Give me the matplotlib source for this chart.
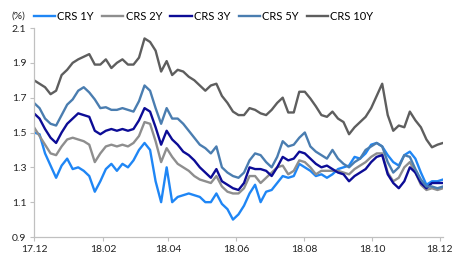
import numpy as np
import pandas as pd
import matplotlib
matplotlib.use("Agg")
import matplotlib.pyplot as plt
import matplotlib.dates as mdates

plt.rcParams['font.family'] = ['Lato', 'DejaVu Sans']

# sampled every ~5 days, Dec 2017 - early Dec 2018
dates = pd.date_range('2017-12-01', '2018-12-04', periods=75)

crs_1y = [1.50, 1.49, 1.38, 1.31, 1.24, 1.31, 1.35, 1.29, 1.30, 1.28,
          1.25, 1.16, 1.22, 1.29, 1.32, 1.28, 1.32, 1.30, 1.34, 1.40,
          1.44, 1.40, 1.22, 1.10, 1.30, 1.10, 1.13, 1.14, 1.15, 1.14,
          1.13, 1.10, 1.10, 1.15, 1.09, 1.06, 1.00, 1.03, 1.08, 1.15,
          1.20, 1.10, 1.16, 1.17, 1.21, 1.25, 1.24, 1.25, 1.32, 1.30,
          1.28, 1.25, 1.26, 1.24, 1.26, 1.29, 1.30, 1.31, 1.36, 1.35,
          1.38, 1.43, 1.44, 1.42, 1.37, 1.33, 1.31, 1.37, 1.39, 1.35,
          1.27, 1.20, 1.22, 1.22, 1.23]
crs_2y = [1.53, 1.48, 1.43, 1.38, 1.37, 1.42, 1.46, 1.47, 1.46, 1.45,
          1.43, 1.33, 1.38, 1.42, 1.43, 1.42, 1.43, 1.42, 1.44, 1.48,
          1.56, 1.55, 1.45, 1.33, 1.41, 1.36, 1.32, 1.30, 1.28, 1.25,
          1.23, 1.22, 1.21, 1.25, 1.19, 1.16, 1.15, 1.15, 1.18, 1.25,
          1.25, 1.21, 1.24, 1.27, 1.30, 1.31, 1.26, 1.28, 1.34, 1.33,
          1.30, 1.26, 1.28, 1.28, 1.28, 1.28, 1.27, 1.26, 1.29, 1.31,
          1.33, 1.36, 1.38, 1.38, 1.27, 1.22, 1.24, 1.30, 1.33, 1.27,
          1.20, 1.17, 1.18, 1.17, 1.18]
crs_3y = [1.61, 1.58, 1.52, 1.47, 1.44, 1.50, 1.55, 1.58, 1.61, 1.60,
          1.59, 1.51, 1.49, 1.51, 1.52, 1.51, 1.52, 1.51, 1.52, 1.57,
          1.64, 1.62, 1.53, 1.43, 1.51, 1.46, 1.43, 1.39, 1.37, 1.34,
          1.30, 1.27, 1.24, 1.29, 1.22, 1.20, 1.18, 1.17, 1.21, 1.30,
          1.29, 1.29, 1.28, 1.25, 1.30, 1.36, 1.34, 1.35, 1.39, 1.38,
          1.35, 1.32, 1.30, 1.31, 1.29, 1.27, 1.26, 1.22, 1.25, 1.27,
          1.29, 1.33, 1.36, 1.37, 1.26, 1.21, 1.18, 1.22, 1.30, 1.27,
          1.21, 1.18, 1.21, 1.21, 1.21]
crs_5y = [1.67, 1.64, 1.58, 1.55, 1.54, 1.60, 1.66, 1.69, 1.74, 1.76,
          1.73, 1.69, 1.64, 1.645, 1.63, 1.63, 1.64, 1.63, 1.62, 1.68,
          1.77, 1.74, 1.64, 1.55, 1.64, 1.58, 1.58, 1.55, 1.51, 1.47,
          1.43, 1.41, 1.38, 1.42, 1.30, 1.27, 1.25, 1.24, 1.27, 1.34,
          1.38, 1.37, 1.33, 1.30, 1.36, 1.45, 1.42, 1.43, 1.47, 1.50,
          1.42, 1.39, 1.37, 1.35, 1.40, 1.35, 1.32, 1.30, 1.33, 1.35,
          1.40, 1.42, 1.44, 1.42, 1.33, 1.27, 1.30, 1.37, 1.36, 1.29,
          1.23, 1.19, 1.19, 1.18, 1.19]
crs_10y = [1.80, 1.78, 1.76, 1.72, 1.74, 1.83, 1.86, 1.90, 1.92, 1.935,
           1.95, 1.89, 1.89, 1.92, 1.87, 1.90, 1.92, 1.89, 1.89, 1.93,
           2.04, 2.02, 1.97, 1.85, 1.91, 1.83, 1.86, 1.85, 1.82, 1.80,
           1.77, 1.74, 1.77, 1.78, 1.71, 1.67, 1.62, 1.60, 1.60, 1.64,
           1.63, 1.61, 1.60, 1.63, 1.67, 1.70, 1.615, 1.615, 1.734, 1.734,
           1.695, 1.65, 1.60, 1.59, 1.62, 1.58, 1.56, 1.49, 1.53, 1.56,
           1.59, 1.64, 1.71, 1.78, 1.60, 1.51, 1.54, 1.53, 1.62, 1.57,
           1.53, 1.46, 1.415, 1.43, 1.44]

labels = ['CRS 1Y', 'CRS 2Y', 'CRS 3Y', 'CRS 5Y', 'CRS 10Y']
colors = ['#1f86f5', '#8e8e8e', '#0c0c96', '#4a7db0', '#5e5e5e']
series = [crs_1y, crs_2y, crs_3y, crs_5y, crs_10y]

fig = plt.figure(figsize=(4.72, 2.63), dpi=100)
ax = fig.add_axes([34/472, 1 - 237/263, 409/472, 209/263])

for vals, lab, c in zip(series, labels, colors):
    ax.plot(dates, vals, color=c, lw=1.7, label=lab)

ax.set_ylim(0.9, 2.1)
ax.set_yticks(np.arange(0.9, 2.11, 0.2))
ax.yaxis.set_major_formatter(plt.FormatStrFormatter('%.1f'))
ax.set_xlim(pd.Timestamp('2017-12-01'), pd.Timestamp('2018-12-04'))
ax.set_xticks(pd.date_range('2017-12-01', '2018-12-01', freq='2MS'))
ax.xaxis.set_major_formatter(mdates.DateFormatter('%y.%m'))

for s in ['top', 'right']:
    ax.spines[s].set_visible(False)
for s in ['left', 'bottom']:
    ax.spines[s].set_color('#c0c0c0')
    ax.spines[s].set_linewidth(0.9)
ax.tick_params(axis='both', labelsize=7.5, colors='#c0c0c0', labelcolor='#222222',
               length=3, width=0.8, pad=2.5)

fig.text(12/472, 1 - 16/263, '(%)', fontsize=7.5, color='#222222', va='center')
fig.legend(loc='center left', bbox_to_anchor=(34/472, 1 - 16/263), ncol=5,
           frameon=False, fontsize=8, handlelength=1.9, handletextpad=0.2,
           columnspacing=0.75, borderaxespad=0, borderpad=0)

fig.savefig('out.png', dpi=100)
